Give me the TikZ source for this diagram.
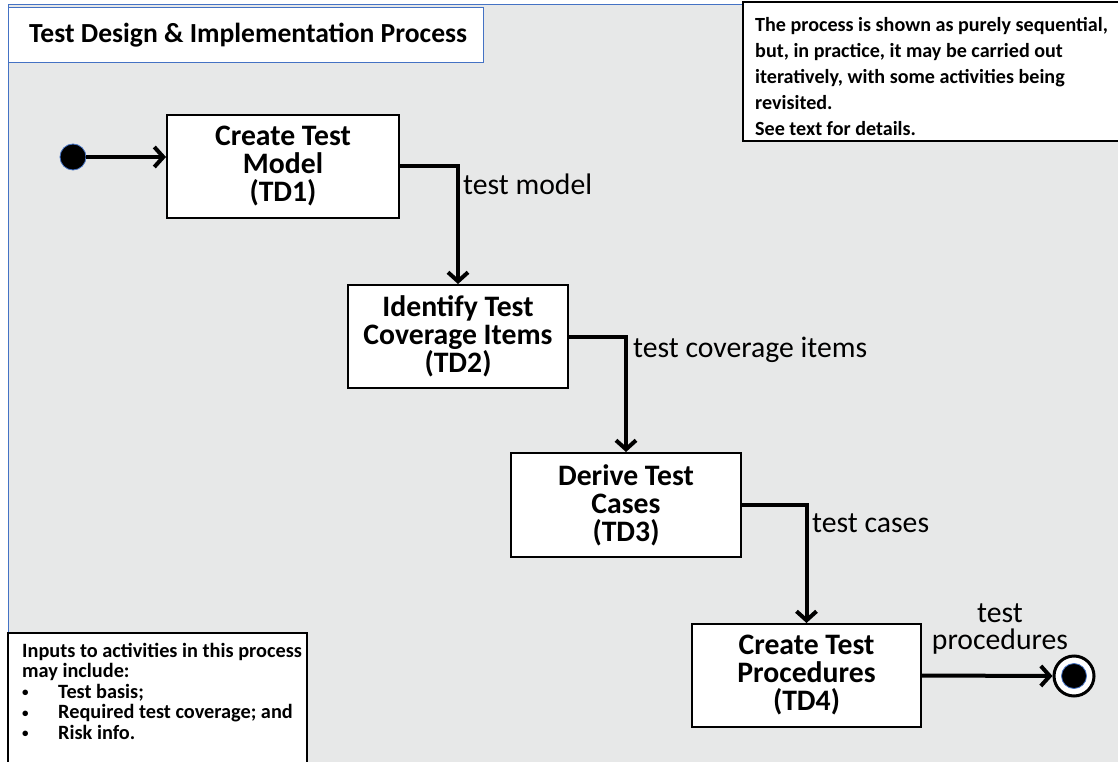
\documentclass[tikz,border=0pt]{standalone}
\usepackage{fontspec}
\setmainfont{Carlito}
\usetikzlibrary{arrows.meta}
\definecolor{bggray}{HTML}{E7E8E8}
\definecolor{frameblue}{HTML}{4472C4}
\newcommand{\smallbul}{\makebox[36pt][l]{\raisebox{1.5pt}{\fontsize{13}{13}\selectfont\textbullet}}}
\begin{document}
\begin{tikzpicture}[x=1pt,y=-1pt,
  procbox/.style={draw=black,line width=2pt,fill=white,inner sep=0pt,align=center,
    font=\fontsize{29.7}{28}\selectfont\bfseries},
  flow/.style={line width=4pt,line join=miter,-{Straight Barb[length=9pt,width=20pt]}},
  lbl/.style={inner sep=0pt,font=\fontsize{29.7}{27}\selectfont},
  notebox/.style={draw=black,line width=1.5pt,fill=white},
  notetext/.style={inner sep=0pt,align=left}
]
\useasboundingbox (0,0) rectangle (1118,762);
\fill[white] (0,0) rectangle (1118,762);
% background area
\fill[bggray] (8,5) rectangle (1118,762);
\draw[frameblue,line width=1pt] (8,762) -- (8,5) -- (1118,5);
% title
\node[draw=frameblue,line width=1pt,fill=white,minimum width=475pt,minimum height=55pt,anchor=north west,inner sep=0pt] (titlebox) at (8,7) {};
\node[anchor=base west,inner sep=0pt,font=\fontsize{27.6}{30}\selectfont\bfseries] (title) at (29,43) {Test Design \& Implementation Process};
% top-right note
\draw[notebox] (743,2) rectangle (1125,141);
\node[notetext,anchor=base west,font=\fontsize{20.1}{26}\selectfont\bfseries] (note1) at (755,136)
  {The process is shown as purely sequential,\\but, in practice, it may be carried out\\iteratively, with some activities being\\revisited.\\See text for details.};
% bottom-left note
\draw[notebox] (8,633) rectangle (307,770);
\node[notetext,anchor=base west,font=\fontsize{20.3}{20.5}\selectfont\bfseries] (note2) at (22,739)
  {Inputs to activities in this process\\may include:\\
   \smallbul Test basis;\\
   \smallbul Required test coverage; and\\
   \smallbul Risk info.};
% process boxes
\node[procbox,minimum width=232pt,minimum height=103pt] (td1) at (283,166.5) {Create Test\\Model\\(TD1)};
\node[procbox,minimum width=220pt,minimum height=103pt] (td2) at (458,336.5) {Identify Test\\Coverage Items\\(TD2)};
\node[procbox,minimum width=230pt,minimum height=104pt] (td3) at (626,505) {Derive Test\\Cases\\(TD3)};
\node[procbox,minimum width=229pt,minimum height=103pt] (td4) at (806.5,675.5) {Create Test\\Procedures\\(TD4)};
% start and end
\node[circle,fill=black,draw=frameblue,line width=0.8pt,minimum size=26pt,inner sep=0pt] (start) at (73,157) {};
\node[circle,fill=white,draw=black,line width=3pt,minimum size=40pt,inner sep=0pt] (endo) at (1074,676) {};
\node[circle,fill=black,draw=frameblue,line width=0.8pt,minimum size=25pt,inner sep=0pt] (endi) at (1074,676) {};
% connectors
\draw[flow] (start.east) -- (td1.west |- start.east);
\draw[flow] (td1.east) -| (td2.north);
\draw[flow] (td2.east) -| (td3.north);
\draw[flow] (td3.east) -| (td4.north);
\draw[flow] (td4.east) -- (endo.west);
% labels
\node[lbl,anchor=base west] (l1) at (463,194) {test model};
\node[lbl,anchor=base west] (l2) at (633,357) {test coverage items};
\node[lbl,anchor=base west] (l3) at (812,532) {test cases};
\node[lbl,anchor=base,align=center] (l4) at (1000,649) {test\\procedures};
\end{tikzpicture}
\end{document}
